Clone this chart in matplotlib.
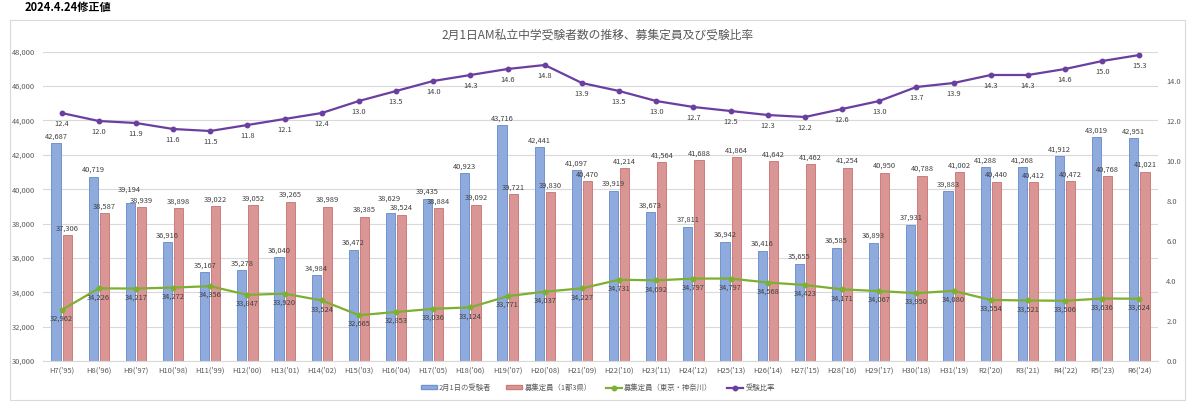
import matplotlib
matplotlib.use('Agg')
import matplotlib.pyplot as plt
from matplotlib.patches import Rectangle
from matplotlib.lines import Line2D
import numpy as np

plt.rcParams['font.family'] = ['Noto Sans CJK JP', 'DejaVu Sans']

# 年度ラベル
years = ["H7('95)", "H8('96)", "H9('97)", "H10('98)", "H11('99)", "H12('00)",
         "H13('01)", "H14('02)", "H15('03)", "H16('04)", "H17('05)", "H18('06)",
         "H19('07)", "H20('08)", "H21('09)", "H22('10)", "H23('11)", "H24('12)",
         "H25('13)", "H26('14)", "H27('15)", "H28('16)", "H29('17)", "H30('18)",
         "H31('19)", "R2('20)", "R3('21)", "R4('22)", "R5('23)", "R6('24)"]

# 2月1日の受験者
examinees = [42687, 40719, 39194, 36916, 35167, 35278, 36040, 34984, 36472, 38629,
             39435, 40923, 43716, 42441, 41097, 39919, 38673, 37811, 36942, 36416,
             35655, 36585, 36893, 37931, 39883, 41288, 41268, 41912, 43019, 42951]

# 募集定員（1都3県）
capacity_4 = [37306, 38587, 38939, 38898, 39022, 39052, 39265, 38989, 38385, 38524,
              38884, 39092, 39721, 39830, 40470, 41214, 41564, 41688, 41864, 41642,
              41462, 41254, 40950, 40788, 41002, 40440, 40412, 40472, 40768, 41021]

# 募集定員（東京・神奈川）
capacity_tk = [32962, 34226, 34217, 34272, 34356, 33847, 33920, 33524, 32665, 32853,
               33036, 33124, 33771, 34037, 34227, 34731, 34692, 34797, 34797, 34568,
               34423, 34171, 34067, 33950, 34080, 33554, 33521, 33506, 33636, 33624]

# 受験比率
ratio = [12.4, 12.0, 11.9, 11.6, 11.5, 11.8, 12.1, 12.4, 13.0, 13.5,
         14.0, 14.3, 14.6, 14.8, 13.9, 13.5, 13.0, 12.7, 12.5, 12.3,
         12.2, 12.6, 13.0, 13.7, 13.9, 14.3, 14.3, 14.6, 15.0, 15.3]

c_blue, c_blue_e = '#8FAADC', '#7195D0'
c_red, c_red_e = '#DA9694', '#CD7D7B'
c_green = '#7DAF31'
c_purple = '#6B3FA0'
c_text = '#595959'
c_lab = '#404040'
c_grid = '#D9D9D9'
fs = 5.4

fig = plt.figure(figsize=(12, 4.04), dpi=100)
ax = fig.add_axes([43/1200, 1-361/404, 1115/1200, (361-51.7)/404])
x = np.arange(len(years))
w = 0.245

ax.bar(x - 0.15, examinees, w, color=c_blue, edgecolor=c_blue_e, linewidth=0.7, zorder=2)
ax.bar(x + 0.15, capacity_4, w, color=c_red, edgecolor=c_red_e, linewidth=0.7, zorder=2)
ax.plot(x, capacity_tk, color=c_green, lw=1.6, marker='o', ms=3.2, zorder=4)

for i in range(len(years)):
    # 青と赤のラベルが重なる所は青を少し上へ
    up = 7 if abs(examinees[i] - capacity_4[i]) < 400 else 2
    ax.annotate(f'{examinees[i]:,}', (x[i] - 0.15, examinees[i]), xytext=(-1 if up > 2 else 0, up),
                textcoords='offset points', ha='center', va='bottom', fontsize=fs, color=c_lab)
    ax.annotate(f'{capacity_4[i]:,}', (x[i] + 0.15, capacity_4[i]), xytext=(0, 2),
                textcoords='offset points', ha='center', va='bottom', fontsize=fs, color=c_lab)
    ax.annotate(f'{capacity_tk[i]:,}', (x[i], capacity_tk[i]), xytext=(0, -3.5),
                textcoords='offset points', ha='center', va='top', fontsize=fs, color=c_lab, zorder=5)

ax.set_xlim(-0.5, len(years) - 0.5)
ax.set_ylim(30000, 48000)
ax.set_yticks(range(30000, 48001, 2000))
ax.yaxis.set_major_formatter(matplotlib.ticker.FuncFormatter(lambda v, p: f'{int(v):,}'))
ax.set_xticks(x)
ax.set_xticklabels(years)
ax.tick_params(axis='both', length=0, labelsize=fs, labelcolor=c_text)
ax.tick_params(axis='y', pad=6)
ax.tick_params(axis='x', pad=4)
ax.grid(axis='y', color=c_grid, lw=0.8, zorder=0)
ax.set_axisbelow(True)
for s in ['top', 'right', 'left']:
    ax.spines[s].set_visible(False)
ax.spines['bottom'].set_color(c_grid)

ax2 = ax.twinx()
ax2.plot(x, ratio, color=c_purple, lw=1.6, marker='o', ms=3.2, zorder=4)
for i in range(len(years)):
    ax2.annotate(f'{ratio[i]:.1f}', (x[i], ratio[i]), xytext=(0, -5),
                 textcoords='offset points', ha='center', va='top', fontsize=fs, color=c_lab)
ax2.set_ylim(0, (361-51.7)/20)
ax2.set_yticks(np.arange(0, 14.1, 2))
ax2.yaxis.set_major_formatter(matplotlib.ticker.FuncFormatter(lambda v, p: f'{v:.1f}'))
ax2.tick_params(axis='y', length=0, labelsize=fs, labelcolor=c_text, pad=6)
for s in ax2.spines.values():
    s.set_visible(False)

fig.text(598/1200, 1-35/404, '2月1日AM私立中学受験者数の推移、募集定員及び受験比率',
         ha='center', va='center', fontsize=8.5, color=c_text)
fig.text(25/1200, 1-8/404, '2024.4.24修正値', ha='left', va='center',
         fontsize=8, fontweight='bold', color='black')

fig.patches.append(Rectangle((10/1200, 1-400/404), 1175/1200, 380/404,
                             transform=fig.transFigure, fill=False,
                             edgecolor=c_grid, lw=0.8))

handles = [
    Rectangle((0, 0), 1, 1, facecolor=c_blue, edgecolor=c_blue_e),
    Rectangle((0, 0), 1, 1, facecolor=c_red, edgecolor=c_red_e),
    Line2D([], [], color=c_green, lw=1.6, marker='o', ms=3.2),
    Line2D([], [], color=c_purple, lw=1.6, marker='o', ms=3.2),
]
labels = ['2月1日の受験者', '募集定員（1都3県）', '募集定員（東京・神奈川）', '受験比率']
fig.legend(handles, labels, loc='center', bbox_to_anchor=(598/1200, 1-388/404),
           ncol=4, frameon=False, fontsize=5.3, labelcolor=c_text,
           handlelength=2.1, handleheight=0.5, columnspacing=2.0, handletextpad=0.35)

fig.savefig('out.png', dpi=100)
